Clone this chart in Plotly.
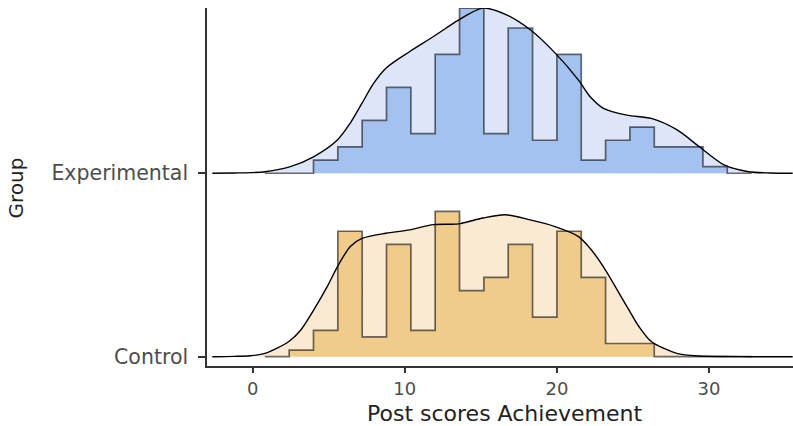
import plotly.graph_objects as go

# ---------------- data ----------------
groups = ["Control", "Experimental"]
n_obs = 150
bin_start = 0.8
bin_width = 1.6

control_counts = [0, 1, 4, 19, 3, 17, 4, 22, 10, 12, 17, 6, 19, 12, 2, 2, 0, 0, 0, 0]
experimental_counts = [0, 0, 2, 4, 8, 13, 6, 18, 25, 6, 22, 5, 18, 2, 5, 7, 4, 4, 1, 0]

control_dens_x = [-2.65, -1.2, -0.15, 0.81, 2.38, 3.15, 4.02, 4.9, 5.57, 6.42, 7.19, 8.76,
                  10.31, 11.89, 13.53, 15.14, 16.6, 18.24, 19.88, 21.42, 22.19, 23.06,
                  24.6, 25.4, 26.2, 27.88, 29.4, 31.0, 33.0, 35.5]
control_dens_y = [0.0, 0.0002, 0.0006, 0.0021, 0.0096, 0.0167, 0.0296, 0.0442, 0.0567,
                  0.0696, 0.0746, 0.0779, 0.0800, 0.0833, 0.0838, 0.0875, 0.0896, 0.0863,
                  0.0821, 0.0758, 0.0683, 0.0567, 0.0317, 0.0189, 0.0096, 0.0021, 0.0004,
                  0.0001, 0.0, 0.0]

experimental_dens_x = [-2.65, -1.2, -0.15, 0.81, 2.48, 4.0, 5.57, 6.42, 7.19, 7.95, 8.76,
                       10.31, 11.89, 13.53, 15.14, 16.69, 18.27, 19.89, 21.42, 22.19, 23.06,
                       24.6, 26.2, 27.88, 29.37, 30.99, 32.6, 34.0, 35.5]
experimental_dens_y = [0.0, 0.0002, 0.0004, 0.0010, 0.0042, 0.0104, 0.0210, 0.0317, 0.0442,
                       0.0567, 0.0663, 0.0767, 0.0863, 0.0967, 0.1042, 0.1000, 0.0904, 0.0758,
                       0.0588, 0.0483, 0.0410, 0.0367, 0.0346, 0.0275, 0.0167, 0.0053, 0.0010,
                       0.0002, 0.0]

x_ticks = [0, 10, 20, 30]

# ---------------- styling ----------------
RIDGE_HEIGHT = 0.9
hist_fill = {"Control": "#F0CB89", "Experimental": "#A4C2F0"}
dens_fill = {"Control": "#FAEAD1", "Experimental": "#DCE6F8"}
outline = "rgba(20,20,20,0.62)"

series = {
    "Control": (control_counts, control_dens_x, control_dens_y),
    "Experimental": (experimental_counts, experimental_dens_x, experimental_dens_y),
}
max_count = max(max(control_counts), max(experimental_counts))
scale = RIDGE_HEIGHT / max_count
count_per_density = n_obs * bin_width

fig = go.Figure()
for gi, g in enumerate(groups):
    counts, dx, dy = series[g]
    edges = [bin_start + i * bin_width for i in range(len(counts) + 1)]
    dens_scaled = [gi + v * count_per_density * scale for v in dy]
    # density fill
    fig.add_trace(go.Scatter(x=[dx[0], dx[-1]], y=[gi, gi], mode="lines",
                             line=dict(width=0), hoverinfo="skip", showlegend=False))
    fig.add_trace(go.Scatter(x=dx, y=dens_scaled,
                             mode="lines", line=dict(width=0, shape="spline", smoothing=0.8),
                             fill="tonexty", fillcolor=dens_fill[g],
                             hoverinfo="skip", showlegend=False))
    # histogram (binline)
    fig.add_trace(go.Scatter(x=[edges[0], edges[-1]], y=[gi, gi], mode="lines",
                             line=dict(width=0), hoverinfo="skip", showlegend=False))
    fig.add_trace(go.Scatter(x=edges, y=[gi + c * scale for c in counts + [counts[-1]]],
                             mode="lines", line=dict(color=outline, width=1.7, shape="hv"),
                             fill="tonexty", fillcolor=hist_fill[g],
                             hoverinfo="skip", showlegend=False))
    # density line
    fig.add_trace(go.Scatter(x=dx, y=dens_scaled,
                             mode="lines",
                             line=dict(color="black", width=1.4, shape="spline", smoothing=0.8),
                             hoverinfo="skip", showlegend=False))

fig.update_layout(
    width=793, height=426,
    margin=dict(l=207, r=0, t=8, b=60),
    paper_bgcolor="white", plot_bgcolor="white",
    font=dict(family="DejaVu Sans", color="#4d4d4d"),
    xaxis=dict(range=[-3.0, 35.52], tickvals=x_ticks, ticktext=[str(t) for t in x_ticks],
               showgrid=False, zeroline=False, showline=True, linecolor="#333333",
               linewidth=1.5, ticks="outside", ticklen=5, tickwidth=1.5, tickcolor="#333333",
               tickfont=dict(family="DejaVu Sans", size=18, color="#4d4d4d"),
               ticklabelstandoff=1),
    yaxis=dict(range=[-0.0507, 1.901], tickvals=[0, 1], ticktext=groups,
               showgrid=False, zeroline=False, showline=True, linecolor="#333333",
               linewidth=1.5, ticks="outside", ticklen=7, tickwidth=1.5, tickcolor="#333333",
               tickfont=dict(family="DejaVu Sans", size=20.5, color="#4d4d4d"),
               ticklabelstandoff=6),
    annotations=[
        dict(text="Post scores Achievement", xref="paper", yref="paper",
             x=0.507, y=-0.133, xanchor="center", yanchor="middle", showarrow=False,
             font=dict(family="DejaVu Sans", size=22, color="#222222")),
        dict(text="Group", xref="paper", yref="paper", x=-0.326, y=0.4986,
             xanchor="center", yanchor="middle", textangle=-90, showarrow=False,
             font=dict(family="DejaVu Sans", size=20, color="#222222")),
    ],
)

fig.write_html("out.html")
